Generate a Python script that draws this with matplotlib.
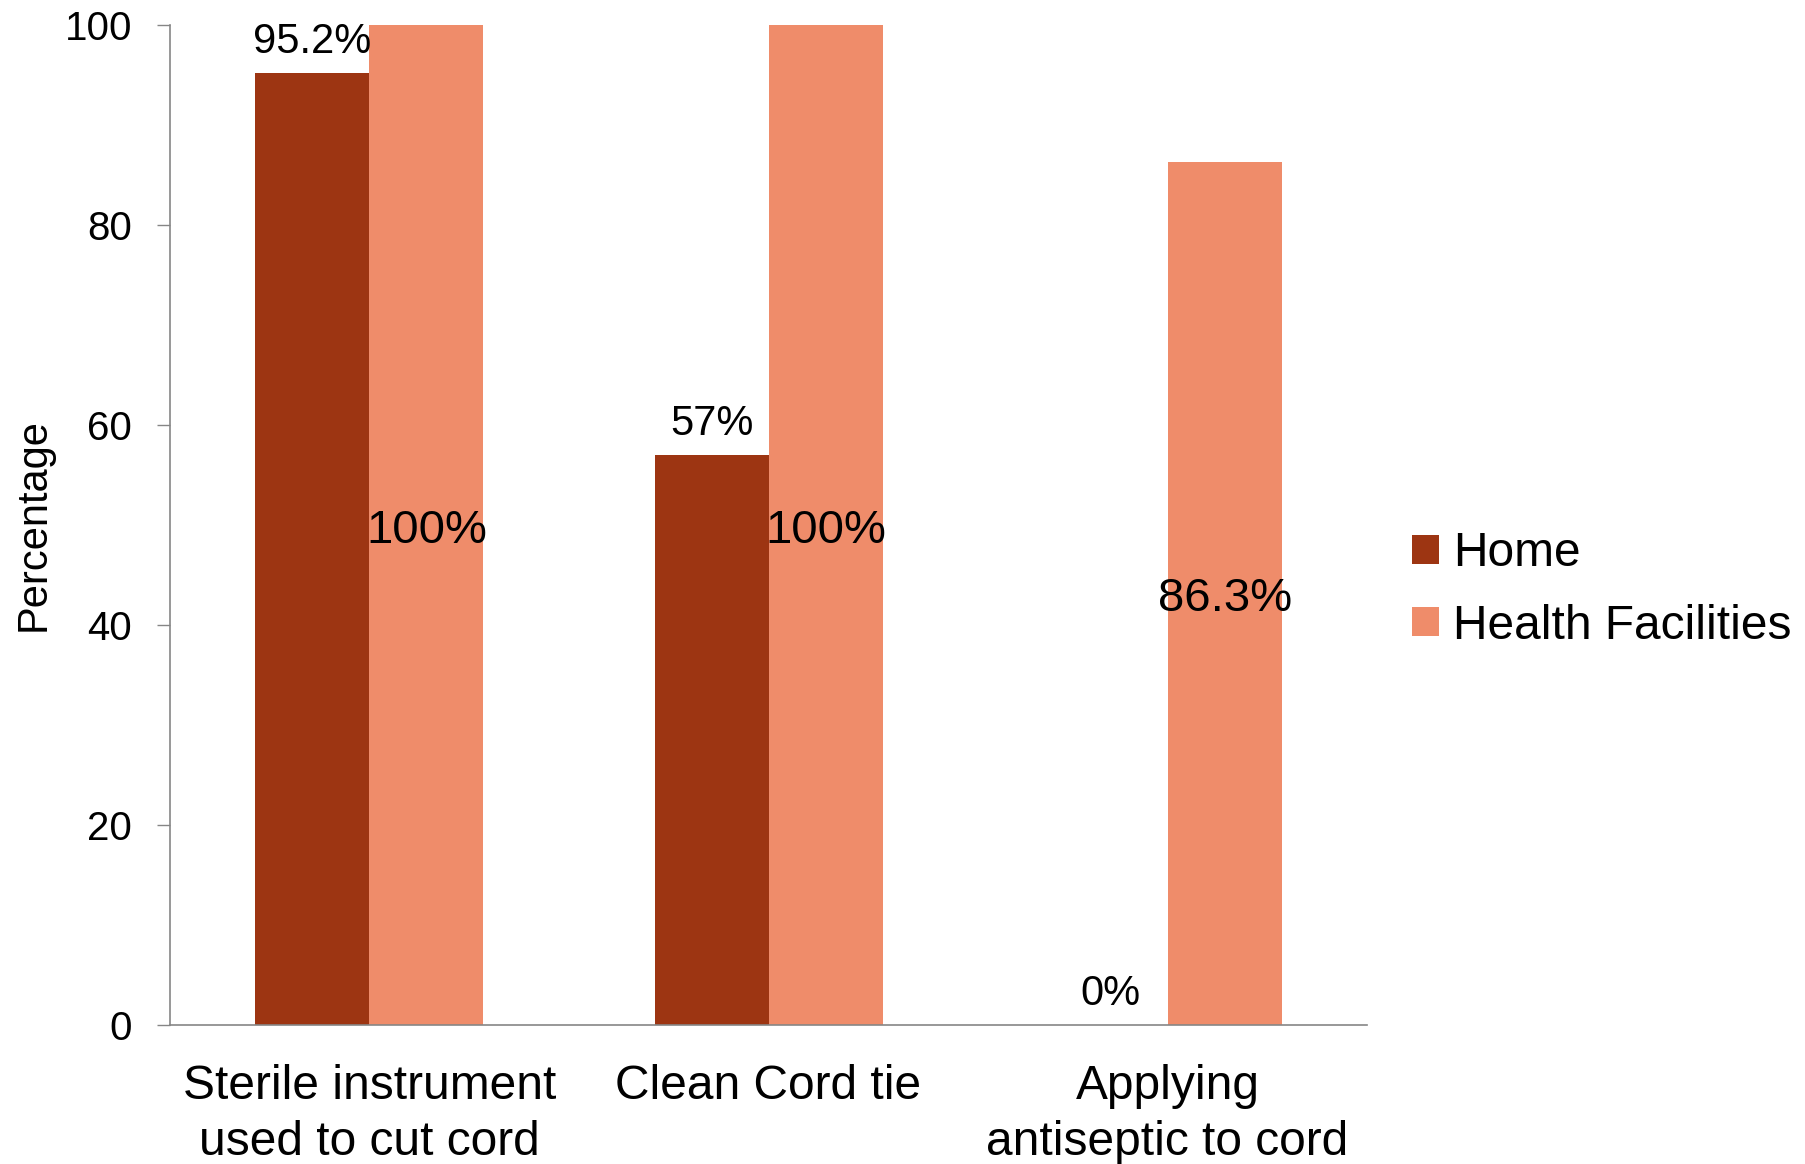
import matplotlib
matplotlib.use("Agg")
import matplotlib.pyplot as plt
import numpy as np

plt.rcParams['font.family'] = ['Liberation Sans', 'DejaVu Sans']

categories = ["Sterile instrument\nused to cut cord", "Clean Cord tie", "Applying\nantiseptic to cord"]
home = [95.2, 57, 0]
health_facilities = [100, 100, 86.3]
home_labels = ["95.2%", "57%", "0%"]
hf_labels = ["100%", "100%", "86.3%"]
yticks = [0, 20, 40, 60, 80, 100]

home_color = "#9D3512"
hf_color = "#EF8C6A"
axis_color = "#868686"

fig = plt.figure(figsize=(18.06, 11.64), dpi=100)
ax = fig.add_axes([0.0941, 0.1194, 0.6629, 0.8591])

x = np.arange(len(categories))
w = 1 / 3.5
ax.bar(x - w / 2, home, width=w, color=home_color, label="Home")
ax.bar(x + w / 2, health_facilities, width=w, color=hf_color, label="Health Facilities")

# value labels: above the Home bars, centred inside the Health Facilities bars
for xi, v, lab in zip(x, home, home_labels):
    ax.annotate(lab, (xi - w / 2, v), xytext=(0, 22), textcoords="offset points",
                ha="center", va="center", fontsize=30)
for xi, v, lab in zip(x, health_facilities, hf_labels):
    ax.annotate(lab, (xi + w / 2, v / 2), xytext=(0, -4), textcoords="offset points",
                ha="center", va="center", fontsize=34)

ax.set_xlim(-0.5, 2.5)
ax.set_ylim(0, 100)
ax.set_yticks(yticks)
ax.set_yticklabels([str(t) for t in yticks], fontsize=29)
ax.set_xticks(x)
ax.set_xticklabels(categories, fontsize=34.5, linespacing=1.33)
ax.tick_params(axis="x", length=0, pad=28)
ax.tick_params(axis="y", length=9.4, width=1, color=axis_color, direction="out", pad=18)

for s in ["top", "right"]:
    ax.spines[s].set_visible(False)
for s in ["left", "bottom"]:
    ax.spines[s].set_color(axis_color)
    ax.spines[s].set_linewidth(1.2)

ax.set_ylabel("Percentage", fontsize=30, va="center")
ax.yaxis.set_label_coords(-0.1136, 0.5)

leg = ax.legend(loc="center left", bbox_to_anchor=(1.0216, 0.435), frameon=False,
                fontsize=34.5, handlelength=0.55, handleheight=0.55,
                handletextpad=0.3, labelspacing=0.57, borderaxespad=0)

fig.savefig("out.png", dpi=100)
